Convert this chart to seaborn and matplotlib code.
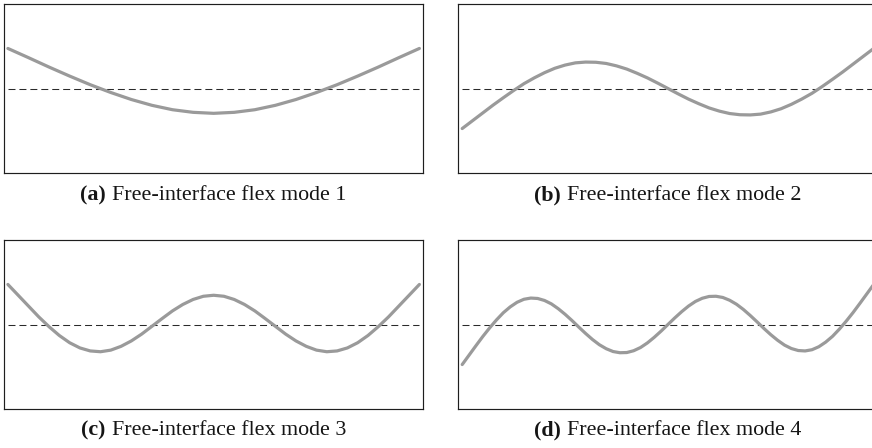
import numpy as np
import matplotlib
matplotlib.use("Agg")
import matplotlib.pyplot as plt
import seaborn as sns
from matplotlib.offsetbox import TextArea, HPacker, AnchoredOffsetbox

# Lateral deflection along the span (0 = left end, 1 = right end),
# end deflection normalised to 2.
mode_1 = [2.00, 1.54, 1.07, 0.62, 0.19, -0.20, -0.55, -0.84, -1.06, -1.19, -1.24,
          -1.19, -1.06, -0.84, -0.55, -0.20, 0.19, 0.62, 1.07, 1.54, 2.00]

mode_2 = [-2.00, -1.61, -1.22, -0.83, -0.46, -0.10, 0.24, 0.53, 0.79, 1.01, 1.17,
          1.28, 1.32, 1.31, 1.25, 1.13, 0.97, 0.76, 0.53, 0.27, 0.00,
          -0.27, -0.53, -0.76, -0.97, -1.13, -1.25, -1.31, -1.32, -1.28, -1.17,
          -1.01, -0.79, -0.53, -0.24, 0.10, 0.46, 0.83, 1.22, 1.61, 2.00]

mode_3 = [2.00, 1.46, 0.92, 0.38, -0.11, -0.55, -0.91, -1.17, -1.32, -1.36, -1.28,
          -1.09, -0.82, -0.48, -0.09, 0.30, 0.68, 1.00, 1.25, 1.41, 1.46,
          1.41, 1.25, 1.00, 0.68, 0.30, -0.09, -0.48, -0.82, -1.09, -1.28,
          -1.36, -1.32, -1.17, -0.91, -0.55, -0.11, 0.38, 0.92, 1.46, 2.00]

mode_4 = [-2.00, -1.53, -1.06, -0.60, -0.17, 0.23, 0.59, 0.88, 1.11, 1.26, 1.32,
          1.30, 1.20, 1.03, 0.79, 0.51, 0.20, -0.13, -0.45, -0.75, -1.01,
          -1.21, -1.35, -1.41, -1.40, -1.31, -1.15, -0.92, -0.64, -0.33, 0.00,
          0.33, 0.64, 0.92, 1.15, 1.31, 1.40, 1.41, 1.35, 1.21, 1.01,
          0.75, 0.45, 0.13, -0.20, -0.51, -0.79, -1.03, -1.20, -1.30, -1.32,
          -1.26, -1.11, -0.88, -0.59, -0.23, 0.17, 0.60, 1.06, 1.53, 2.00]

panel_labels = ["(a)", "(b)", "(c)", "(d)"]
captions = ["Free-interface flex mode 1", "Free-interface flex mode 2",
            "Free-interface flex mode 3", "Free-interface flex mode 4"]
modes = [mode_1, mode_2, mode_3, mode_4]

sns.set_theme(style="white")
plt.rcParams["font.family"] = ["Liberation Serif", "DejaVu Serif"]

W, H = 872, 448
fig = plt.figure(figsize=(W / 100, H / 100), dpi=100)

# axes frames in pixels: (left, top, width, height)
frames = [(4, 4, 419.3, 169), (458.3, 4, 419.3, 169),
          (4, 240, 419.3, 169), (458.3, 240, 419.3, 169)]
caption_y = [195, 195, 430, 430]

curve_color = "#9a9a9a"
text_color = "#151515"

for i, (vals, lab, cap) in enumerate(zip(modes, panel_labels, captions)):
    l, t, w, h = frames[i]
    ax = fig.add_axes([l / W, 1 - (t + h) / H, w / W, h / H])
    x = np.linspace(0, 1, len(vals))
    ax.plot(x, np.zeros_like(x), color="#2a2a2a", lw=0.75,
            ls=(0, (6.7, 3.8)), zorder=2)
    sns.lineplot(x=x, y=vals, ax=ax, color=curve_color, lw=2.3, zorder=3)
    ax.set_xlim(-0.0095, 1.0095)
    ax.set_ylim(-4.22, 4.22)
    ax.set_xticks([])
    ax.set_yticks([])
    ax.set_xlabel("")
    ax.set_ylabel("")
    for sp in ax.spines.values():
        sp.set_visible(True)
        sp.set_color("#1e1e1e")
        sp.set_linewidth(0.85)

    fs = 15.8
    pack = HPacker(children=[
        TextArea(lab, textprops=dict(fontsize=fs, fontweight="bold", color=text_color)),
        TextArea(cap, textprops=dict(fontsize=fs, color=text_color)),
    ], align="baseline", pad=0, sep=4.5)
    box = AnchoredOffsetbox(loc="center", child=pack, pad=0, borderpad=0,
                            frameon=False,
                            bbox_to_anchor=((l + w / 2) / W, 1 - caption_y[i] / H),
                            bbox_transform=fig.transFigure)
    fig.add_artist(box)

fig.savefig("out.png", dpi=100)
